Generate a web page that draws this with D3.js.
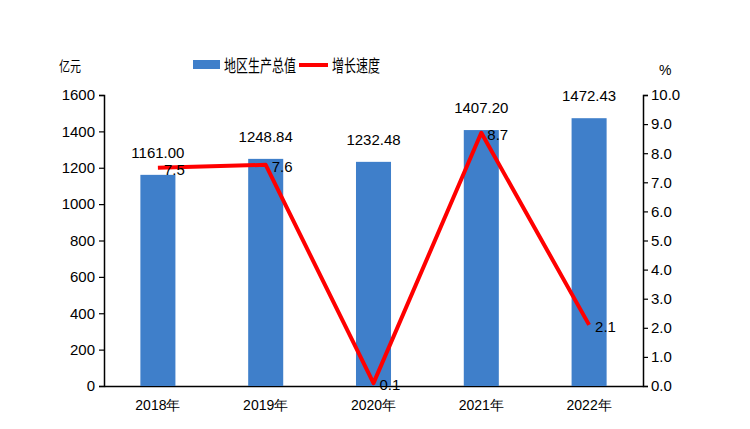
<!DOCTYPE html>
<html>
<head>
<meta charset="utf-8">
<script src="https://cdn.jsdelivr.net/npm/d3@7"></script>
<style>
	body { margin: 0; background: #fff; }
	text { font-family: "Noto Sans CJK SC", "Liberation Sans", sans-serif; fill: #000; }
</style>
</head>
<body>
<script>
const years = ['2018年', '2019年', '2020年', '2021年', '2022年']
const gdp = [1161.00, 1248.84, 1232.48, 1407.20, 1472.43]
const growth = [7.5, 7.6, 0.1, 8.7, 2.1]
const leftTicks = [0, 200, 400, 600, 800, 1000, 1200, 1400, 1600]
const rightTicks = [0, 1, 2, 3, 4, 5, 6, 7, 8, 9, 10]

const BLUE = '#3f7fca'
const RED = '#ff0000'
const NUM_FONT = '"Liberation Sans", Arial, sans-serif'

let width = 750
let height = 429
let margin = { top: 95, right: 107, bottom: 43, left: 104 }

let svg = d3.select('body').append('svg')
	.attr('width', width)
	.attr('height', height)

let x = d3.scaleBand()
	.domain(years)
	.range([margin.left, width - margin.right])
	.paddingInner(0.675)
	.paddingOuter(0.3375)

let yLeft = d3.scaleLinear()
	.domain([0, 1600])
	.range([height - margin.bottom, margin.top])

let yRight = d3.scaleLinear()
	.domain([0, 10])
	.range([height - margin.bottom, margin.top])

// axes
let leftAxis = svg.append('g')
	.attr('transform', `translate(${margin.left},0)`)
	.call(d3.axisLeft(yLeft).tickValues(leftTicks).tickFormat(d3.format('d')).tickSize(5).tickPadding(4))
let rightAxis = svg.append('g')
	.attr('transform', `translate(${width - margin.right},0)`)
	.call(d3.axisRight(yRight).tickValues(rightTicks).tickFormat(d3.format('.1f')).tickSize(5).tickPadding(3))
let bottomAxis = svg.append('g')
	.attr('transform', `translate(0,${height - margin.bottom})`)
	.call(d3.axisBottom(x).tickSize(0).tickPadding(14))

;[leftAxis, rightAxis, bottomAxis].forEach(g => {
	g.select('.domain').attr('stroke', '#000').attr('stroke-width', 1.5)
	g.selectAll('.tick line').attr('stroke', '#000').attr('stroke-width', 1.2)
	g.selectAll('.tick text')
		.style('font-size', '15px')
		.style('font-family', NUM_FONT)
		.attr('fill', '#000')
})
bottomAxis.selectAll('.tick text').style('font-size', '14px')

// bars
svg.selectAll('.bar')
	.data(gdp)
	.enter()
	.append('rect')
	.attr('class', 'bar')
	.attr('x', (d, i) => x(years[i]))
	.attr('y', d => yLeft(d))
	.attr('width', x.bandwidth())
	.attr('height', d => yLeft(0) - yLeft(d))
	.attr('fill', BLUE)

svg.selectAll('.bar-label')
	.data(gdp)
	.enter()
	.append('text')
	.attr('class', 'bar-label')
	.attr('x', (d, i) => x(years[i]) + x.bandwidth() / 2)
	.attr('y', d => yLeft(d) - 17)
	.attr('text-anchor', 'middle')
	.style('font-size', '15px')
	.style('font-family', NUM_FONT)
	.text(d => d3.format('.2f')(d))

// growth line
let line = d3.line()
	.x((d, i) => x(years[i]) + x.bandwidth() / 2)
	.y(d => yRight(d))

svg.append('path')
	.datum(growth)
	.attr('d', line)
	.attr('fill', 'none')
	.attr('stroke', RED)
	.attr('stroke-width', 4)
	.attr('stroke-linejoin', 'round')

svg.selectAll('.line-label')
	.data(growth)
	.enter()
	.append('text')
	.attr('class', 'line-label')
	.attr('x', (d, i) => x(years[i]) + x.bandwidth() / 2 + 6)
	.attr('y', d => yRight(d) + 7)
	.style('font-size', '15px')
	.style('font-family', NUM_FONT)
	.text(d => d3.format('.1f')(d))

// axis units
svg.append('text')
	.attr('x', 59).attr('y', 71)
	.attr('textLength', 22)
	.attr('lengthAdjust', 'spacingAndGlyphs')
	.style('font-size', '14px')
	.text('亿元')
svg.append('text')
	.attr('x', 659).attr('y', 75)
	.style('font-size', '14px')
	.style('font-family', NUM_FONT)
	.text('%')

// legend
let legend = svg.append('g')
legend.append('rect')
	.attr('x', 193).attr('y', 60)
	.attr('width', 27).attr('height', 9)
	.attr('fill', BLUE)
legend.append('text')
	.attr('x', 224).attr('y', 72)
	.attr('textLength', 72)
	.attr('lengthAdjust', 'spacingAndGlyphs')
	.style('font-size', '17px')
	.text('地区生产总值')
legend.append('line')
	.attr('x1', 299).attr('x2', 328)
	.attr('y1', 65).attr('y2', 65)
	.attr('stroke', RED)
	.attr('stroke-width', 4)
legend.append('text')
	.attr('x', 332).attr('y', 72)
	.attr('textLength', 48)
	.attr('lengthAdjust', 'spacingAndGlyphs')
	.style('font-size', '17px')
	.text('增长速度')
</script>
</body>
</html>
